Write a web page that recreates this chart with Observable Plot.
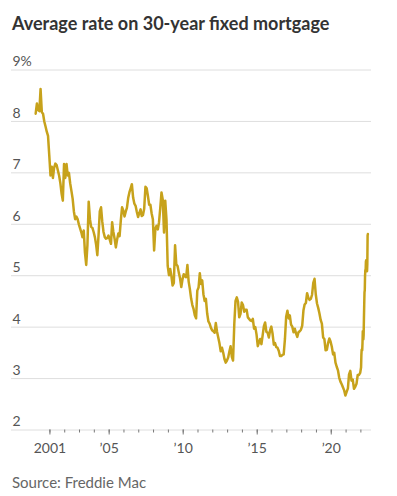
<!DOCTYPE html>
<html>
<head>
<meta charset="utf-8">
<script src="https://cdn.jsdelivr.net/npm/d3@7"></script>
<script src="https://cdn.jsdelivr.net/npm/@observablehq/plot@0.6"></script>
<style>
  html, body { margin: 0; padding: 0; background: #fff; }
  #wrap { position: relative; width: 397px; height: 496px; overflow: hidden; }
  #title { position: absolute; left: 12px; top: 14px; font-family: Lato, sans-serif; font-weight: 700; font-size: 18px; line-height: 1; color: #333; white-space: nowrap; }
  #chart { position: absolute; left: 0; top: 40px; }
  #source { position: absolute; left: 12px; top: 475px; font-family: Lato, sans-serif; font-size: 15px; line-height: 1; color: #666; white-space: nowrap; }
</style>
</head>
<body>
<div id="wrap">
  <div id="title">Average rate on 30-year fixed mortgage</div>
  <div id="chart"></div>
  <div id="source">Source: Freddie Mac</div>
</div>
<script>
// Monthly readings (percent), Jan 2000 – Dec 2021, one row per year
const firstYear = 2000;
const monthlyRates = [
  8.15, 8.35, 8.22, 8.20, 8.63, 8.18, 8.15, 8.00, 7.90, 7.80, 7.72, 7.35, // 2000
  6.95, 7.12, 6.90, 7.10, 7.18, 7.15, 7.05, 6.95, 6.80, 6.60, 6.46, 7.17, // 2001
  6.90, 7.17, 6.95, 7.00, 6.80, 6.65, 6.50, 6.25, 6.10, 6.15, 6.10, 6.00, // 2002
  5.92, 5.84, 5.75, 5.88, 5.45, 5.21, 5.60, 6.44, 6.10, 5.95, 5.93, 5.85, // 2003
  5.75, 5.60, 5.40, 5.80, 6.25, 6.33, 6.05, 5.85, 5.75, 5.72, 5.73, 5.78, // 2004
  5.70, 5.62, 6.04, 5.85, 5.72, 5.55, 5.70, 5.82, 5.77, 6.07, 6.33, 6.27, // 2005
  6.15, 6.25, 6.32, 6.51, 6.62, 6.70, 6.78, 6.52, 6.40, 6.36, 6.24, 6.14, // 2006
  6.22, 6.29, 6.16, 6.18, 6.30, 6.73, 6.70, 6.55, 6.38, 6.38, 6.21, 6.10, // 2007
  5.49, 5.92, 5.97, 5.90, 6.04, 6.32, 6.62, 6.48, 5.84, 6.46, 6.09, 5.19, // 2008
  5.01, 5.13, 5.00, 4.81, 4.86, 5.59, 5.22, 5.19, 5.06, 4.95, 4.78, 4.93, // 2009
  5.03, 4.99, 4.97, 5.21, 4.89, 4.74, 4.56, 4.43, 4.35, 4.23, 4.17, 4.71, // 2010
  4.77, 5.05, 4.84, 4.91, 4.64, 4.51, 4.55, 4.27, 4.11, 4.07, 3.99, 3.94, // 2011
  3.92, 3.89, 4.08, 3.91, 3.80, 3.68, 3.53, 3.60, 3.50, 3.38, 3.31, 3.35, // 2012
  3.41, 3.53, 3.63, 3.42, 3.35, 4.07, 4.51, 4.58, 4.49, 4.19, 4.26, 4.48, // 2013
  4.43, 4.30, 4.34, 4.34, 4.19, 4.16, 4.13, 4.12, 4.16, 3.97, 4.00, 3.86, // 2014
  3.63, 3.71, 3.77, 3.67, 3.84, 4.02, 4.09, 3.91, 3.89, 3.80, 3.94, 4.01, // 2015
  3.87, 3.66, 3.69, 3.61, 3.60, 3.54, 3.44, 3.44, 3.46, 3.47, 3.77, 4.20, // 2016
  4.32, 4.17, 4.23, 4.05, 4.01, 3.90, 3.97, 3.88, 3.81, 3.90, 3.92, 3.95, // 2017
  4.03, 4.33, 4.44, 4.47, 4.66, 4.57, 4.53, 4.55, 4.63, 4.86, 4.94, 4.64, // 2018
  4.46, 4.37, 4.27, 4.14, 4.07, 3.80, 3.77, 3.55, 3.56, 3.69, 3.78, 3.72, // 2019
  3.62, 3.47, 3.50, 3.31, 3.23, 3.16, 3.02, 2.94, 2.89, 2.83, 2.77, 2.67, // 2020
  2.74, 2.81, 3.08, 3.15, 2.96, 2.98, 2.80, 2.84, 2.90, 3.07, 3.07, 3.11  // 2021
];

// Weekly readings for 2022
const weekDates2022 = ["2022-01-06","2022-01-13","2022-01-20","2022-01-27","2022-02-03","2022-02-10","2022-02-17","2022-02-24","2022-03-03","2022-03-10","2022-03-17","2022-03-24","2022-03-31","2022-04-07","2022-04-14","2022-04-21","2022-04-28","2022-05-05","2022-05-12","2022-05-19","2022-05-26","2022-06-02","2022-06-09","2022-06-16","2022-06-23"];
const weekRates2022 = [3.22, 3.45, 3.56, 3.55, 3.55, 3.69, 3.92, 3.89, 3.76, 3.85, 4.16, 4.42, 4.67, 4.72, 5.00, 5.11, 5.10, 5.27, 5.30, 5.25, 5.10, 5.09, 5.23, 5.78, 5.81];

// Axis ticks and labels
const yTicks = [2, 3, 4, 5, 6, 7, 8, 9];
const yTickLabels = ["2", "3", "4", "5", "6", "7", "8", "9%"];
const minorTickYears = [2001, 2002, 2003, 2004, 2005, 2006, 2007, 2008, 2009, 2010, 2011, 2012, 2013, 2014, 2015, 2016, 2017, 2018, 2019, 2020, 2021, 2022];
const majorTickYears = [2001, 2005, 2010, 2015, 2020];
const majorTickLabels = ["2001", "\u201905", "\u201910", "\u201915", "\u201920"];
const xDomain = ["1998-05-29", "2022-09-20"];

const data = monthlyRates.map((r, i) => ({date: new Date(Date.UTC(firstYear, i, 15)), rate: r}))
  .concat(weekDates2022.map((d, i) => ({date: new Date(d), rate: weekRates2022[i]})));

const yearDate = y => new Date(Date.UTC(y, 0, 1));

const chart = Plot.plot({
  width: 397,
  height: 425,
  marginLeft: 11,
  marginRight: 26,
  marginTop: 29.5,
  marginBottom: 35.5,
  style: {fontFamily: "Lato, sans-serif", fontSize: "14px", background: "transparent", overflow: "visible"},
  x: {type: "utc", domain: xDomain.map(d => new Date(d)), label: null},
  y: {domain: [2, 9], label: null},
  marks: [
    Plot.ruleY(yTicks, {stroke: "#dedede", strokeWidth: 1}),
    Plot.axisY(yTicks, {
      anchor: "left", tickSize: 0, tickPadding: 0, dx: 1, dy: -8, label: null,
      textAnchor: "start", fill: "#555",
      tickFormat: d => yTickLabels[yTicks.indexOf(d)]
    }),
    Plot.axisX(minorTickYears.map(yearDate), {
      anchor: "bottom", tickSize: 3, stroke: "#777", label: null, tickFormat: () => ""
    }),
    Plot.axisX(majorTickYears.map(yearDate), {
      anchor: "bottom", tickSize: 5, tickPadding: 8, stroke: "#777", fill: "#555", label: null,
      tickFormat: d => majorTickLabels[majorTickYears.indexOf(d.getUTCFullYear())]
    }),
    Plot.line(data, {x: "date", y: "rate", stroke: "#c7a21b", strokeWidth: 2.5, strokeLinejoin: "round"})
  ]
});
document.getElementById("chart").appendChild(chart);
</script>
</body>
</html>
